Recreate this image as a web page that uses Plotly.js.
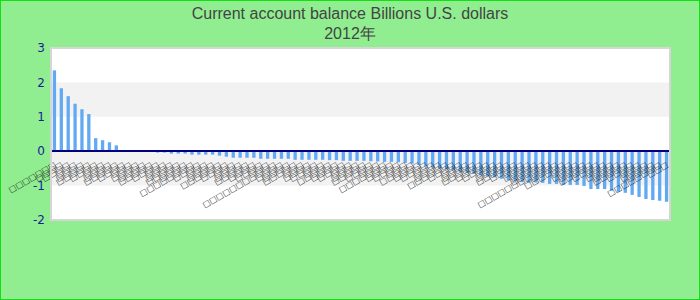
<!DOCTYPE html>
<html>
<head>
<meta charset="utf-8">
<script src="https://cdn.plot.ly/plotly-3.0.1.min.js"></script>
<style>
  html, body { margin: 0; padding: 0; background: #90ee90; }
  #wrap { position: relative; width: 700px; height: 300px; }
  #chart { width: 700px; height: 300px; }
  #frame { position: absolute; left: 0; top: 0; width: 700px; height: 300px; box-sizing: border-box; border: 1px solid #11e011; pointer-events: none; }
</style>
</head>
<body>
<div id="wrap"><div id="chart"></div><div id="frame"></div></div>
<script>
// Category labels (rendered as missing-glyph boxes in the reference)
const categories = [
  "□□□□□□□","□□□□ ","□□□□  ","□□□","□□□□   ","□□□□□","□□□□    ","□□□ ","□□□□     ","□□□□□ ",
  "□□□□      ","□□□  ","□□□□       ","□□□□        ","□□□□□  ","□□□□         ","□□□   ","□□□□          ","□□□□□   ","□□□□           ",
  "□□□□□□□□","□□□□            ","□□□    ","□□□□             ","□□□□□□","□□□□              ","□□□     ","□□□□               ","□□□□□    ","□□□□                ",
  "□□□□                 ","□□□      ","□□□□□□□□□□□","□□□□                  ","□□□□                   ","□□□□□     ","□□□       ","□□□□                    ","□□□□                     ","□□□        ",
  "□□□□□      ","□□□□                      ","□□□□                       ","□□□         ","□□□□                        ","□□□□□       ","□□□□                         ","□□□          ","□□□□□□□","□□□□                          ",
  "□□□□                           ","□□□           ","□□□□□        ","□□□□                            ","□□□□                             ","□□□            ","□□□□                              ","□□□□□□ ","□□□□                               ","□□□             ",
  "□□□□                                ","□□□□□         ","□□□□                                 ","□□□□                                  ","□□□              ","□□□□                                   ","□□□□□          ","□□□□                                    ","□□□               ","□□□□                                     ",
  "□□□□                                      ","□□□□□           ","□□□□□□□□□□□ ","□□□□                                       ","□□□□□□  ","□□□                ","□□□□                                        ","□□□□                                         ","□□□□□            ","□□□□                                          ",
  "□□□                 ","□□□□                                           ","□□□□                                            ","□□□□□             ","□□□□                                             ","□□□                  ","□□□□                                              ","□□□□                                               ","□□□□□□□□","□□□                   "
];
// Current account balance values, 2012
const values = [
  2.35, 1.83, 1.60, 1.38, 1.22, 1.08, 0.38, 0.32, 0.26, 0.17,
  0.03, 0.03, 0.03, 0.03, -0.01, -0.04, -0.04, -0.07, -0.07, -0.07,
  -0.10, -0.10, -0.10, -0.10, -0.13, -0.16, -0.19, -0.19, -0.19, -0.19,
  -0.22, -0.22, -0.22, -0.22, -0.22, -0.25, -0.25, -0.25, -0.25, -0.25,
  -0.26, -0.26, -0.28, -0.28, -0.28, -0.28, -0.29, -0.30, -0.31, -0.31,
  -0.32, -0.34, -0.36, -0.40, -0.44, -0.47, -0.50, -0.53, -0.56, -0.60,
  -0.63, -0.66, -0.70, -0.73, -0.76, -0.80, -0.84, -0.87, -0.90, -0.91,
  -0.91, -0.92, -0.95, -0.95, -0.98, -0.98, -0.98, -1.01, -1.10, -1.10,
  -1.10, -1.15, -1.18, -1.21, -1.27, -1.33, -1.39, -1.42, -1.44, -1.47
];
const yTickValues = [-2, -1, 0, 1, 2, 3];
const yTickLabels = ["-2", "-1", "0", "1", "2", "3"];
const titleText = "Current account balance Billions U.S. dollars<br>2012年";

const positions = categories.map((c, i) => i);
const labels = categories.map(s => s.trim());

const trace = {
  type: "bar",
  x: positions,
  y: values,
  marker: { color: "#62a9f4" },
  hoverinfo: "none"
};

const layout = {
  width: 700,
  height: 300,
  paper_bgcolor: "#90ee90",
  plot_bgcolor: "#ffffff",
  margin: { l: 51, r: 30, t: 48, b: 80, pad: 0 },
  showlegend: false,
  bargap: 0.52,
  title: {
    text: titleText,
    x: 0.5,
    xanchor: "center",
    y: 0.938,
    yanchor: "top",
    font: { family: "Liberation Sans, Arial, sans-serif", size: 16, color: "#444444" }
  },
  xaxis: {
    range: [-0.5, positions.length - 0.5],
    tickmode: "array",
    tickvals: positions,
    ticktext: labels,
    tickangle: -30,
    anchor: "free",
    position: 0.4,
    showline: true,
    linecolor: "#000080",
    linewidth: 2,
    showgrid: false,
    zeroline: false,
    ticks: "",
    ticklabelstandoff: 5,
    tickfont: { family: "DejaVu Sans", size: 8, color: "#222222" },
    automargin: false,
    fixedrange: true
  },
  yaxis: {
    range: [-2, 3],
    tickmode: "array",
    tickvals: yTickValues,
    ticktext: yTickLabels,
    showgrid: false,
    zeroline: false,
    showline: false,
    ticks: "",
    ticklabelstandoff: 5,
    tickfont: { family: "DejaVu Sans", size: 12, color: "#1c1c96" },
    automargin: false,
    fixedrange: true
  },
  shapes: [
    { type: "rect", xref: "paper", yref: "y", x0: 0, x1: 1, y0: 1, y1: 2, fillcolor: "#f2f2f2", line: { width: 0 }, layer: "below" },
    { type: "rect", xref: "paper", yref: "y", x0: 0, x1: 1, y0: -1, y1: 0, fillcolor: "#f2f2f2", line: { width: 0 }, layer: "below" },
    { type: "rect", xref: "paper", yref: "paper", x0: 0, x1: 1, y0: 0, y1: 1, line: { color: "#d6d6d6", width: 2 }, layer: "above" }
  ]
};

Plotly.newPlot("chart", [trace], layout, { displayModeBar: false, staticPlot: true });
</script>
</body>
</html>
